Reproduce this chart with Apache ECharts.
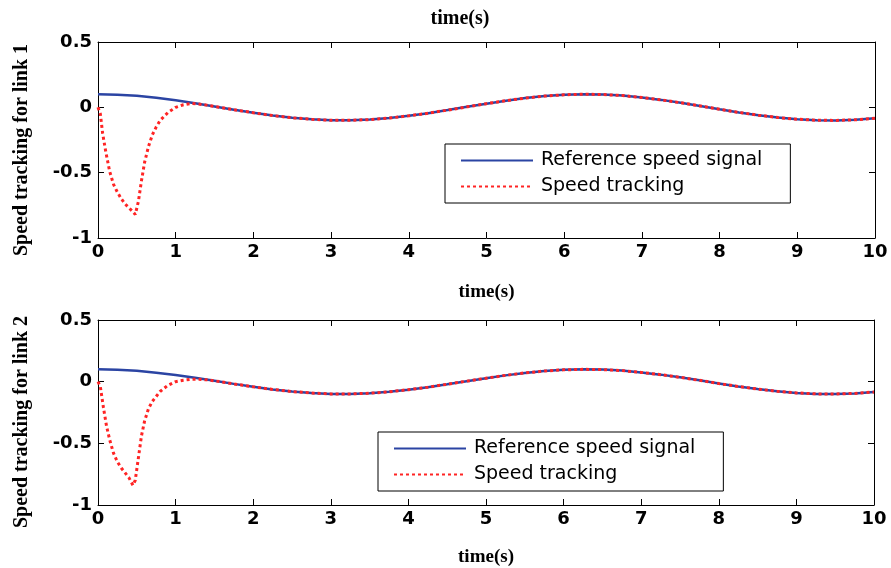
<!DOCTYPE html>
<html>
<head>
<meta charset="utf-8">
<title>Speed tracking</title>
<script src="https://cdn.jsdelivr.net/npm/echarts@6/dist/echarts.min.js"></script>
<style>
	html, body { margin: 0; padding: 0; background: #fff; }
	#main { width: 891px; height: 568px; }
</style>
</head>
<body>
<div id="main"></div>
<script>
// 参考速度信号（两个关节相同）
var refTime = [0, 0.25, 0.5, 0.75, 1, 1.25, 1.5, 1.75, 2, 2.25, 2.5, 2.75, 3, 3.25, 3.5, 3.75, 4, 4.25, 4.5, 4.75,
	5, 5.25, 5.5, 5.75, 6, 6.25, 6.5, 6.75, 7, 7.25, 7.5, 7.75, 8, 8.25, 8.5, 8.75, 9, 9.25, 9.5, 9.75, 10];
var refSpeed = [0.10, 0.097, 0.088, 0.073, 0.054, 0.032, 0.007, -0.018, -0.042, -0.063, -0.080, -0.092, -0.099, -0.099, -0.094, -0.082, -0.065, -0.045, -0.021, 0.004,
	0.028, 0.051, 0.071, 0.086, 0.096, 0.100, 0.098, 0.090, 0.075, 0.057, 0.035, 0.011, -0.015, -0.039, -0.060, -0.078, -0.091, -0.099, -0.100, -0.095, -0.084];

// 跟踪曲线的过渡段，之后与参考信号重合
var trackTime1 = [0, 0.03, 0.06, 0.1, 0.15, 0.2, 0.25, 0.3, 0.35, 0.4, 0.45, 0.48, 0.52, 0.56, 0.6, 0.65, 0.7, 0.75, 0.8, 0.9, 1.0, 1.1, 1.2, 1.3, 1.4, 1.5];
var trackSpeed1 = [0, -0.05, -0.2, -0.34, -0.49, -0.59, -0.65, -0.7, -0.74, -0.77, -0.8, -0.82, -0.72, -0.56, -0.42, -0.3, -0.21, -0.15, -0.1, -0.04, 0, 0.02, 0.03, 0.025, 0.017, 0.007];

var trackTime2 = [0, 0.03, 0.07, 0.11, 0.15, 0.2, 0.25, 0.3, 0.35, 0.4, 0.45, 0.48, 0.52, 0.56, 0.6, 0.65, 0.7, 0.8, 0.9, 1.0, 1.1, 1.2, 1.3, 1.4, 1.5];
var trackSpeed2 = [0, -0.04, -0.21, -0.36, -0.47, -0.58, -0.65, -0.7, -0.74, -0.78, -0.84, -0.8, -0.62, -0.44, -0.32, -0.22, -0.16, -0.08, -0.03, 0, 0.012, 0.02, 0.02, 0.015, 0.007];

var xTicks = [0, 1, 2, 3, 4, 5, 6, 7, 8, 9, 10];
var yTicks = [-1, -0.5, 0, 0.5];

var names = ['Reference speed signal', 'Speed tracking'];
var yNames = ['Speed tracking for link 1', 'Speed tracking for link 2'];

function pairs(t, v) {
	var out = [];
	for (var i = 0; i < t.length; i++) out.push([t[i], v[i]]);
	return out;
}

function tracking(t, v) {
	var out = pairs(t, v);
	var last = t[t.length - 1];
	for (var i = 0; i < refTime.length; i++) {
		if (refTime[i] > last) out.push([refTime[i], refSpeed[i]]);
	}
	return out;
}

var tickFont = { fontFamily: 'DejaVu Sans', fontWeight: 'bold', fontSize: 18, color: '#000' };
var nameFont = { fontFamily: 'Liberation Serif', fontWeight: 'bold', fontSize: 19, color: '#000' };
var frameLine = { show: true, onZero: false, lineStyle: { color: '#000', width: 1 } };
var tick = { inside: true, length: 6, lineStyle: { color: '#000' } };
var grids = [
	{ left: 98, right: 16, top: 42, height: 196 },
	{ left: 98, right: 17, top: 320, height: 195 }
];

var xAxis = [], yAxis = [], series = [], legend = [];
for (var g = 0; g < 2; g++) {
	// 底部和左侧坐标轴
	xAxis.push({
		type: 'value', gridIndex: g, min: xTicks[0], max: xTicks[xTicks.length - 1], interval: 1,
		name: 'time(s)', nameLocation: 'middle', nameGap: g === 0 ? 45 : 43, nameTextStyle: nameFont,
		axisLine: frameLine, axisTick: tick,
		axisLabel: Object.assign({ margin: 5 }, tickFont),
		splitLine: { show: false }
	});
	// 顶部刻度（只画框和刻度）
	xAxis.push({
		type: 'value', gridIndex: g, position: 'top', min: 0, max: 10, interval: 1,
		axisLine: frameLine, axisTick: tick,
		axisLabel: { show: false }, splitLine: { show: false }
	});
	yAxis.push({
		type: 'value', gridIndex: g, min: yTicks[0], max: yTicks[yTicks.length - 1], interval: 0.5,
		axisLine: frameLine, axisTick: tick,
		axisLabel: Object.assign({ margin: 6 }, tickFont),
		splitLine: { show: false }
	});
	yAxis.push({
		type: 'value', gridIndex: g, position: 'right', min: -1, max: 0.5, interval: 0.5,
		axisLine: frameLine, axisTick: tick,
		axisLabel: { show: false }, splitLine: { show: false }
	});

	series.push({
		name: names[0], type: 'line', xAxisIndex: g * 2, yAxisIndex: g * 2,
		showSymbol: false, symbol: 'none', animation: false,
		lineStyle: { color: '#2b44a3', width: 2.5 },
		itemStyle: { color: '#2b44a3' },
		data: pairs(refTime, refSpeed)
	});
	series.push({
		name: names[1], type: 'line', xAxisIndex: g * 2, yAxisIndex: g * 2,
		showSymbol: false, symbol: 'none', animation: false, z: 3,
		lineStyle: { color: '#ff2424', width: 3, type: [3, 3] },
		itemStyle: { color: '#ff2424' },
		data: g === 0 ? tracking(trackTime1, trackSpeed1) : tracking(trackTime2, trackSpeed2)
	});

	legend.push({
		data: names, orient: 'vertical',
		left: g === 0 ? 445 : 378, top: g === 0 ? 144 : 432,
		padding: [7, 28, 7, 15], itemGap: 7, itemWidth: 72, itemHeight: 19,
		borderColor: '#000', borderWidth: 1, borderRadius: 0, backgroundColor: '#fff',
		itemStyle: { opacity: 0 },
		textStyle: { fontFamily: 'DejaVu Sans', fontSize: 19, color: '#000', padding: [0, 0, 0, 3] },
		selectedMode: false
	});
}

var graphic = [
	{ type: 'text', x: 460, y: 19, style: { text: 'time(s)', font: 'bold 20px "Liberation Serif"', fill: '#000', align: 'center', verticalAlign: 'middle' } }
];
var yCenters = [150, 422];
for (var k = 0; k < 2; k++) {
	graphic.push({
		type: 'text', x: 22, y: yCenters[k], rotation: Math.PI / 2,
		style: { text: yNames[k], font: 'bold 20px "Liberation Serif"', fill: '#000', align: 'center', verticalAlign: 'middle' }
	});
}

var myChart = echarts.init(document.getElementById('main'), null, { renderer: 'canvas' });
myChart.setOption({
	backgroundColor: '#fff',
	animation: false,
	grid: grids,
	xAxis: xAxis,
	yAxis: yAxis,
	legend: legend,
	graphic: graphic,
	series: series
});
</script>
</body>
</html>
